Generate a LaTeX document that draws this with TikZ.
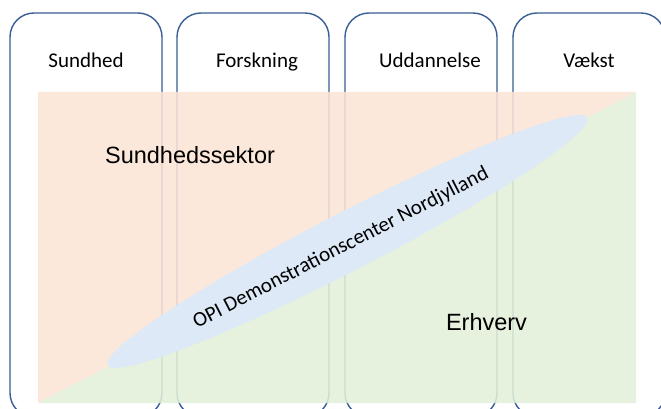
\documentclass[tikz,border=0pt]{standalone}
\usepackage{fontspec}
\setmainfont{Carlito}
\newfontfamily\arialfont{Liberation Sans}
\usetikzlibrary{shapes.geometric}
\definecolor{colline}{HTML}{3A5D96}
\definecolor{orfill}{HTML}{FBE5D6}
\definecolor{grfill}{HTML}{E2F0D9}
\definecolor{elfill}{HTML}{DDE9F6}
\begin{document}
\begin{tikzpicture}[x=1pt,y=-1pt,
  colbox/.style={draw=colline, line width=1.4pt, rounded corners=24pt,
    minimum width=152pt, minimum height=404pt, inner sep=0pt},
  collabel/.style={anchor=base, font=\fontsize{21}{25}\selectfont, inner sep=0pt},
  biglabel/.style={anchor=base, font=\arialfont\fontsize{23.5}{28}\selectfont, inner sep=0pt}]
\useasboundingbox (0,0) rectangle (661,409);
\clip (0,0) rectangle (661,409);
\fill[white] (0,0) rectangle (661,409);
\node[colbox] (c1) at (86,215) {};
\node[colbox] (c2) at (253,215) {};
\node[colbox] (c3) at (421,215) {};
\node[colbox] (c4) at (589,215) {};
\node[collabel] (l1) at (86,68) {Sundhed};
\node[collabel] (l2) at (257,68) {Forskning};
\node[collabel] (l3) at (430,68) {Uddannelse};
\node[collabel] (l4) at (589,68) {Vækst};
\fill[orfill, opacity=0.86] (38,92) -- (636,92) -- (38,403) -- cycle;
\fill[grfill, opacity=0.86] (38,403) -- (636,92) -- (636,403) -- cycle;
\node[ellipse, fill=elfill, minimum width=540pt, minimum height=58pt, inner sep=0pt, rotate=27.3] (opi) at (347.5,241.5) {};
\node[rotate=27.3, font=\fontsize{21}{25}\selectfont, inner sep=0pt] (opit) at (341,248) {OPI Demonstrationscenter Nordjylland};
\node[biglabel] (sek) at (190,163) {Sundhedssektor};
\node[biglabel] (erh) at (486.5,330) {Erhverv};
\end{tikzpicture}
\end{document}
